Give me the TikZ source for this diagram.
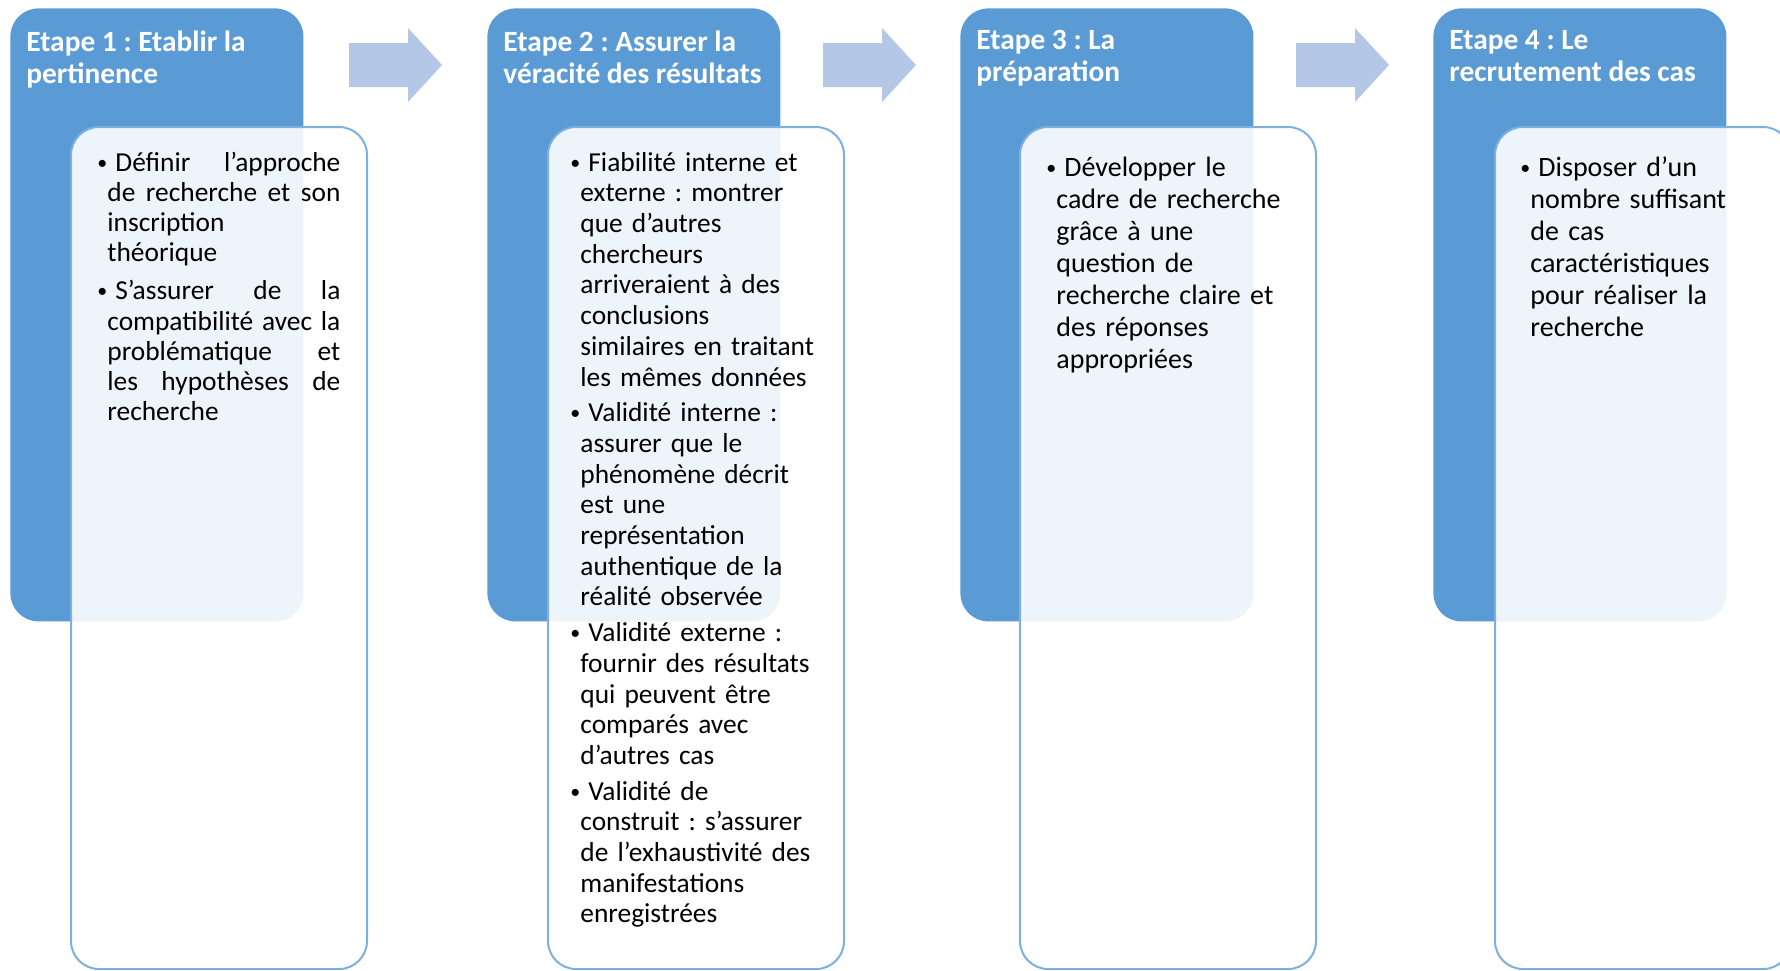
\documentclass[tikz,border=0pt]{standalone}
\usepackage{fontspec}
\setmainfont{Carlito}
\frenchspacing
\usetikzlibrary{positioning}
\definecolor{bleu}{HTML}{5B9BD5}
\definecolor{bordure}{HTML}{7DAFE0}
\definecolor{flechebleu}{HTML}{B4C7E7}
\newcommand\puce{\par\hangindent=5pt\hangafter=1\noindent
  \makebox[9pt][l]{\raisebox{1pt}{\fontsize{10pt}{10pt}\selectfont •}}}
\tikzset{
  etape/.style={fill=bleu, rounded corners=14pt, minimum width=146.5pt,
    minimum height=306.5pt, anchor=north west, inner sep=0pt},
  cadre/.style={draw=bordure, line width=1pt, fill=white, fill opacity=0.9,
    rounded corners=14pt, minimum width=148pt, minimum height=421pt,
    anchor=north west, inner sep=0pt},
  titre/.style={text=white, font=\fontsize{14.7pt}{16pt}\selectfont\bfseries,
    align=left, inner sep=0pt},
  corps/.style={font=\fontsize{13.7pt}{15.35pt}\selectfont, align=left,
    text width=140pt, inner sep=0pt,
    execute at begin node={\setlength{\parskip}{2.5pt}}},
  fleche/.style={fill=flechebleu}
}
\begin{document}
\begin{tikzpicture}[x=0.5pt,y=-0.5pt]
  \useasboundingbox (0,0) rectangle (1780,970);
  % fleches entre les etapes
  \foreach \dx in {0,474,947}
    \fill[fleche,xshift=\dx*0.5pt] (349,43) -- (408,43) -- (408,28) -- (442,65)
      -- (408,102) -- (408,87) -- (349,87) -- cycle;
  % etape 1
  \node[etape] (e1) at (10,8) {};
  \node[cadre] (t1) at (70,126) {};
  \node[titre, below right=11pt and 8pt of e1.north west] (h1)
    {Etape 1 : Etablir la\\pertinence};
  \node[corps, align=justify, text width=121.5pt,
    font=\fontsize{13.7pt}{15.1pt}\selectfont,
    execute at begin node={\setlength{\parskip}{4pt}},
    below right=3.2pt and 13.5pt of t1.north west] (c1)
    {\puce Définir l’approche\linebreak de recherche et son\linebreak
     inscription\newline théorique
     \puce S’assurer de la\linebreak compatibilité avec la\linebreak
     problématique et\linebreak les hypothèses de\linebreak recherche\par};
  % etape 2
  \node[etape] (e2) at (487,8) {};
  \node[cadre] (t2) at (547,126) {};
  \node[titre, below right=11pt and 8pt of e2.north west] (h2)
    {Etape 2 : Assurer la\\véracité des résultats};
  \node[corps, below right=4.5pt and 11.5pt of t2.north west] (c2)
    {\puce Fiabilité interne et\newline externe : montrer\newline
     que d’autres\newline chercheurs\newline arriveraient à des\newline
     conclusions\newline similaires en traitant\newline les mêmes données
     \puce Validité interne :\newline assurer que le\newline
     phénomène décrit\newline est une\newline représentation\newline
     authentique de la\newline réalité observée
     \puce Validité externe :\newline fournir des résultats\newline
     qui peuvent être\newline comparés avec\newline d’autres cas
     \puce Validité de\newline construit : s’assurer\newline
     de l’exhaustivité des\newline manifestations\newline enregistrées\par};
  % etape 3
  \node[etape] (e3) at (960,8) {};
  \node[cadre] (t3) at (1019,126) {};
  \node[titre, below right=11pt and 8pt of e3.north west] (h3)
    {Etape 3 : La\\préparation};
  \node[corps, font=\fontsize{14pt}{16pt}\selectfont,
    below right=6.5pt and 13.5pt of t3.north west] (c3)
    {\puce Développer le\newline cadre de recherche\newline grâce à une\newline
     question de\newline recherche claire et\newline des réponses\newline
     appropriées\par};
  % etape 4
  \node[etape] (e4) at (1433,8) {};
  \node[cadre] (t4) at (1494,126) {};
  \node[titre, below right=11pt and 8pt of e4.north west] (h4)
    {Etape 4 : Le\\recrutement des cas};
  \node[corps, font=\fontsize{14pt}{16pt}\selectfont,
    below right=6.5pt and 13pt of t4.north west] (c4)
    {\puce Disposer d’un\newline nombre suffisant\newline de cas\newline
     caractéristiques\newline pour réaliser la\newline recherche\par};
\end{tikzpicture}
\end{document}
